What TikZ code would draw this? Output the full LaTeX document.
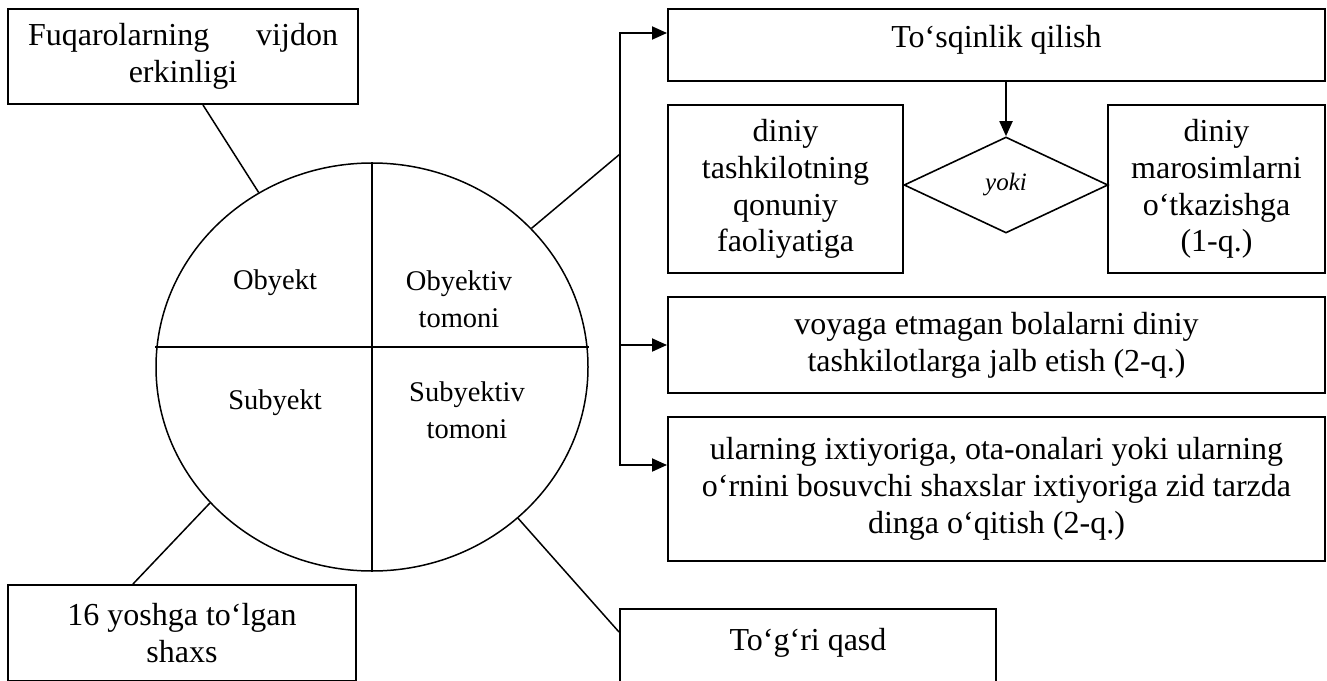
\documentclass[tikz,border=0pt]{standalone}
\usepackage{fontspec}
\setmainfont{Liberation Serif}
\usepackage{tikz}
\usetikzlibrary{arrows.meta,calc,positioning,shapes.geometric}
\tikzset{
  >={Triangle[length=15pt,width=13pt]},
  flow/.style={->,line width=1.9pt,draw=black},
  link/.style={line width=1.5pt,draw=black},
  box/.style={draw=black,line width=2pt,rectangle,inner sep=0pt,align=center,
    font=\fontsize{32}{36.7}\selectfont},
  ringtext/.style={align=center,inner sep=0pt,font=\fontsize{28.5}{36.5}\selectfont},
  orshape/.style={draw=black,line width=1.6pt,diamond,inner sep=0pt,
    minimum width=204pt,minimum height=96pt,font=\fontsize{25}{30}\selectfont\itshape}
}

\begin{document}
\begin{tikzpicture}[x=1pt,y=-1pt]
  \useasboundingbox (0,0) rectangle (1327,680);
  \clip (0,0) rectangle (1327,680);
  % ring with four parts
  \node[draw,line width=1.5pt,ellipse,minimum width=432pt,minimum height=408pt,inner sep=0pt] (ring) at (372,367) {};
  \draw[link] (ring.north) -- (ring.south);
  \draw[link] ([yshift=20pt]ring.west) -- ([yshift=20pt]ring.east);
  \node[ringtext,anchor=base] (object) at (275,289) {Obyekt};
  \node[ringtext] (objside) at (459,299) {Obyektiv\\tomoni};
  \node[ringtext,anchor=base] (subject) at (275,409) {Subyekt};
  \node[ringtext] (subjside) at (467,410) {Subyektiv\\tomoni};

  % boxes
  \node[box,minimum width=350pt,minimum height=95pt] (freedom) at (183,56.5) {\makebox[310pt]{Fuqarolarning\hfill vijdon}\\erkinligi};
  \node[box,minimum width=657pt,minimum height=72pt,text depth=17pt] (hinder) at (996.5,45) {To‘sqinlik qilish};
  \node[box,minimum width=235pt,minimum height=168pt] (religorg) at (785.5,189) {diniy\\tashkilotning\\qonuniy\\faoliyatiga};
  \node[orshape] (orbox) at (1006,185) {yoki};
  \node[box,minimum width=217pt,minimum height=168pt] (rites) at (1216.5,189) {diniy\\marosimlarni\\o‘tkazishga\\(1-q.)};
  \node[box,minimum width=657pt,minimum height=96pt] (minors) at (996.5,345) {voyaga etmagan bolalarni diniy\\tashkilotlarga jalb etish (2-q.)};
  \node[box,minimum width=657pt,minimum height=144pt] (parents) at (996.5,489) {ularning ixtiyoriga, ota-onalari yoki ularning\\o‘rnini bosuvchi shaxslar ixtiyoriga zid tarzda\\dinga o‘qitish (2-q.)};
  \node[box,minimum width=348pt,minimum height=96pt] (young) at (182,633) {16 yoshga to‘lgan\\shaxs};
  \node[box,minimum width=376pt,minimum height=96pt,text depth=35pt] (qasd) at (808,657) {To‘g‘ri qasd};

  % connectors
  \coordinate (spine) at (620,154);
  \draw[link] ([xshift=20pt]freedom.south) -- (ring.123);
  \draw[link] (ring.220) -- ([xshift=-49pt]young.north);
  \draw[link] (ring.314) -- ([yshift=-24pt]qasd.north west);
  \draw[link] (ring.41) -- (spine);
  \draw[flow] (spine) |- ([yshift=12pt]hinder.west);
  \draw[flow] (spine) |- (minors.west);
  \draw[flow] (spine) |- ([yshift=24pt]parents.west);
  \draw[flow] (hinder.south -| orbox.north) -- (orbox.north);
\end{tikzpicture}
\end{document}
